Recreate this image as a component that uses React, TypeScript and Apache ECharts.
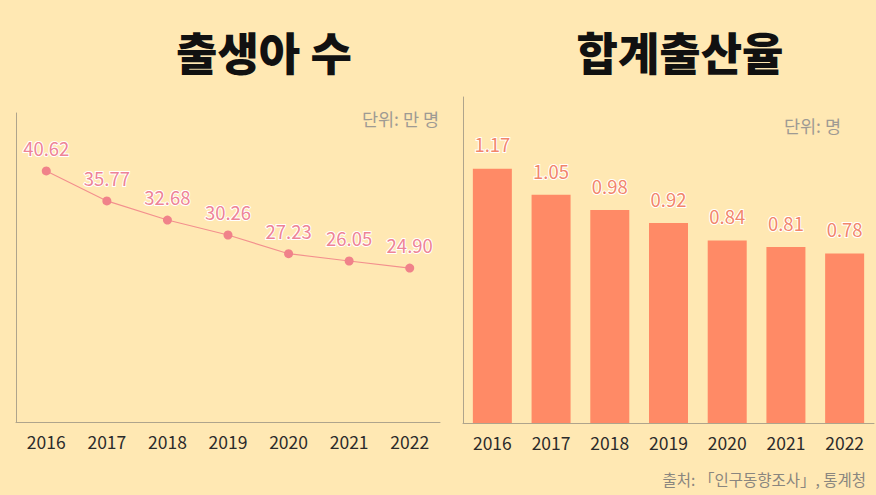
import React, { useEffect, useRef } from "react";
import * as echarts from "echarts";

const years = ["2016", "2017", "2018", "2019", "2020", "2021", "2022"];
const births = [40.62, 35.77, 32.68, 30.26, 27.23, 26.05, 24.9];
const fertility = [1.17, 1.05, 0.98, 0.92, 0.84, 0.81, 0.78];

const titleLeft = "출생아 수";
const titleRight = "합계출산율";
const unitLeft = "단위: 만 명";
const unitRight = "단위: 명";
const sourceText = "출처: 「인구동향조사」, 통계청";

const FONT = "'Noto Sans CJK KR', 'Noto Sans', sans-serif";
const BG = "#FFE8B3";
const AXIS = "#AFA48C";

export default function App() {
  const ref = useRef<HTMLDivElement>(null);
  useEffect(() => {
    document.body.style.margin = "0";
    const chart = echarts.init(ref.current!, null, { renderer: "svg" });
    const xLabel = { color: "#2b2b2b", fontSize: 17.5, fontFamily: FONT, margin: 11 };
    const titleStyle = { fontSize: 45, fontWeight: 900, color: "#111", fontFamily: FONT };
    chart.setOption({
      animation: false,
      backgroundColor: BG,
      textStyle: { fontFamily: FONT },
      graphic: [
        {
          type: "text",
          x: 264,
          y: 51,
          style: { text: titleLeft, align: "center", verticalAlign: "middle", fill: "#111", font: "900 45px " + FONT },
        },
        {
          type: "text",
          x: 680,
          y: 51,
          style: { text: titleRight, align: "center", verticalAlign: "middle", fill: "#111", font: "900 45px " + FONT },
        },
        {
          type: "text",
          right: 876 - 439,
          top: 110,
          style: { text: unitLeft, fill: "#9E9A93", fontSize: 17.5, fontFamily: FONT },
        },
        {
          type: "text",
          right: 876 - 841,
          top: 117,
          style: { text: unitRight, fill: "#9E9A93", fontSize: 17.5, fontFamily: FONT },
        },
        {
          type: "text",
          right: 876 - 866,
          top: 471,
          style: { text: sourceText, fill: "#8A867F", fontSize: 15.5, fontFamily: FONT },
        },
      ],
      grid: [
        { left: 16, top: 113, width: 424, height: 309 },
        { left: 463, top: 97, width: 411, height: 326 },
      ],
      xAxis: [
        {
          type: "category",
          gridIndex: 0,
          data: years,
          axisLine: { lineStyle: { color: AXIS, width: 1 } },
          axisTick: { show: false },
          axisLabel: xLabel,
        },
        {
          type: "category",
          gridIndex: 1,
          data: years,
          axisLine: { lineStyle: { color: AXIS, width: 1 } },
          axisTick: { show: false },
          axisLabel: xLabel,
        },
      ],
      yAxis: [
        {
          type: "value",
          gridIndex: 0,
          min: 0,
          max: 50,
          axisLine: { show: true, lineStyle: { color: AXIS, width: 1 } },
          axisTick: { show: false },
          axisLabel: { show: false },
          splitLine: { show: false },
        },
        {
          type: "value",
          gridIndex: 1,
          min: 0,
          max: 1.5,
          axisLine: { show: true, lineStyle: { color: AXIS, width: 1 } },
          axisTick: { show: false },
          axisLabel: { show: false },
          splitLine: { show: false },
        },
      ],
      series: [
        {
          type: "line",
          xAxisIndex: 0,
          yAxisIndex: 0,
          data: births,
          symbol: "circle",
          symbolSize: 9,
          lineStyle: { color: "#F3908E", width: 1.2 },
          itemStyle: { color: "#F0828A" },
          label: {
            show: true,
            position: "top",
            distance: 9,
            color: "#EE8496",
            fontSize: 18.5,
            fontFamily: FONT,
            textBorderColor: "#fff",
            textBorderWidth: 2,
            formatter: (p: any) => p.value.toFixed(2),
          },
        },
        {
          type: "bar",
          xAxisIndex: 1,
          yAxisIndex: 1,
          data: fertility,
          barWidth: 39,
          itemStyle: { color: "#FF8A66" },
          label: {
            show: true,
            position: "top",
            distance: 15,
            color: "#F2866B",
            fontSize: 18.5,
            fontFamily: FONT,
            textBorderColor: "#fff",
            textBorderWidth: 2,
            formatter: (p: any) => p.value.toFixed(2),
          },
        },
      ],
    });
    return () => chart.dispose();
  }, []);
  return <div ref={ref} style={{ width: 876, height: 495 }} />;
}
